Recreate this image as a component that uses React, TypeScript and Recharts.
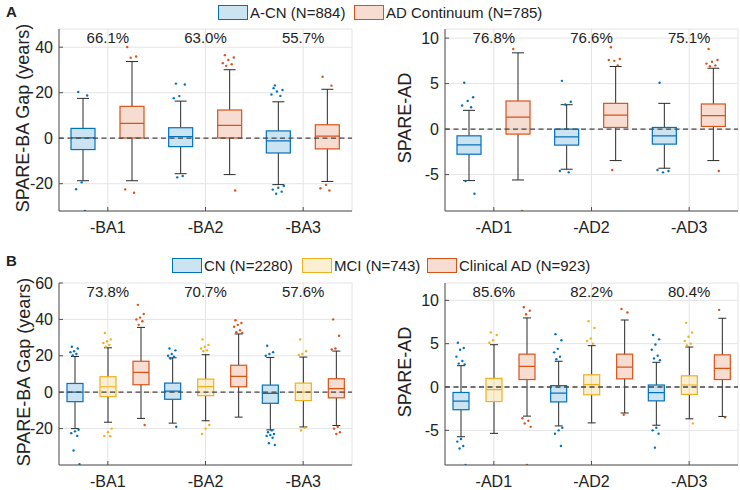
import React from "react";
import {
  Bar,
  CartesianGrid,
  ComposedChart,
  ReferenceDot,
  ReferenceLine,
  XAxis,
  YAxis,
} from "recharts";

const FONT = '"Liberation Sans", Arial, Helvetica, sans-serif';
const BLUE = "#0072BD";
const ORANGE = "#D95319";
const YELLOW = "#EDB120";
const AXIS = "#505050";
const INK = "#222";

// categories
const baCats = ["-BA1", "-BA2", "-BA3"];
const adCats = ["-AD1", "-AD2", "-AD3"];

// each stat row: [lower whisker, q1, median, q3, upper whisker]
// panel A
const aPctBA = ["66.1%", "63.0%", "55.7%"];
const aPctAD = ["76.8%", "76.6%", "75.1%"];
const aCnBA = [[-18.7, -5.0, 0.1, 4.3, 17.5], [-15.6, -3.7, 0.7, 4.6, 16.3], [-20.4, -6.5, -1.2, 3.2, 16.0]];
const aCnBAOut = [[20.3, 18.8, -19.4, -22.4, -32], [24, 23.6, 18.5, 17.6, -16.6, -17.2], [22, 21.2, 20.5, 19.2, 18.6, 23.2, -21, -21.8, -22.6, -23.5, -24.4]];
const aAdBA = [[-18.7, 0.1, 6.5, 14.0, 33.7], [-16.0, 0.1, 5.6, 12.4, 30.1], [-19.0, -4.7, 0.9, 5.9, 21.5]];
const aAdBAOut = [[40.1, 35.9, 35.4, -22.5, -24], [36.5, 35.5, 34.4, 33, 32.5, 31.8, -23], [27, 23.1, -20.5, -22, -23]];
const aCnAD = [[-5.66, -2.76, -1.73, -0.74, 2.06], [-4.41, -1.76, -0.85, 0, 2.68], [-4.3, -1.65, -0.74, 0.18, 2.83]];
const aCnADOut = [[5.1, 3.5, 3.1, 2.6, 2.4, -5.7, -7.1], [5.3, 3.0, 2.7, -4.6, -4.75], [5.1, -4.6, -4.75, -4.5]];
const aAdAD = [[-5.59, -0.55, 1.32, 3.09, 8.38], [-3.46, 0.18, 1.54, 2.83, 6.88], [-3.46, 0.29, 1.47, 2.76, 6.69]];
const aAdADOut = [[8.8, -9], [9.0, 7.7, 7.5, 7.6, 7.0, -4.5], [8.8, 7.6, 7.4, 7.2, 7.0, 6.9, -4.6]];

// panel B
const bPctBA = ["73.8%", "70.7%", "57.6%"];
const bPctAD = ["85.6%", "82.2%", "80.4%"];
const bCnBA = [[-20, -5.2, 0, 4.8, 19.6], [-17, -3.9, 0.6, 5.0, 18.9], [-20.7, -6.1, -0.7, 3.9, 19.1]];
const bCnBAOut = [[25, 24, 22.5, 22, 21, 20.2, -20.6, -21.5, -22.5, -24, -32, -39.5], [24, 23, 21, 20, 19.5, 18.5, -19], [25.5, 22, 21, 20, -21, -22, -23, -23.5, -24, -25, -28, -29]];
const bMciBA = [[-16.5, -2.4, 3.0, 8.5, 24.4], [-15.7, -1.9, 3.1, 7.2, 20.6], [-19.1, -4.6, 0, 5.0, 19.3]];
const bMciBAOut = [[32.5, 29, 28, 27, 26, 25, -20, -22, -24, -24.2], [29, 26, 25, 24, 23, 22.5, -18, -20, -23], [29, 22.5, 21, 20.5, -19.5, -21]];
const bAdBA = [[-14.4, 4.1, 10.9, 17.0, 35.6], [-13.7, 3.0, 8.7, 14.8, 32], [-18.3, -3.1, 2.0, 7.4, 22.6]];
const bAdBAOut = [[48, 43, 41, 40, 39, 37, -18], [39.5, 38, 37, 36, 34, 33, 32.5], [40, 31, 24, 23.5, -19, -20, -22, -23]];
const bCnAD = [[-5.74, -2.62, -1.64, -0.63, 2.46], [-4.49, -1.72, -0.7, 0.16, 2.97], [-4.41, -1.6, -0.66, 0.23, 2.85]];
const bCnADOut = [[5.1, 4.5, 4.3, 3.5, 3.0, 2.7, 2.6, -6.0, -6.3, -6.8, -7.1, -9], [6.1, 5.4, 4.4, 4.0, 3.5, 3.2, -4.7, -5.0, -5.4, -6.8], [6.0, 5.5, 4.9, 4.3, 3.6, 3.3, 3.1, -4.7, -5.0, -5.4, -7.0]];
const bMciAD = [[-5.35, -1.68, -0.31, 1.0, 4.88], [-4.14, -0.9, 0.27, 1.41, 4.77], [-3.67, -0.86, 0.23, 1.29, 4.61]];
const bMciADOut = [[6.3, 6.0, 5.4, 5.1], [7.6, 6.8, 5.6, 5.3, 5.0], [7.4, 6.3, 5.8, 5.3, 5.0, 4.8, -4.2]];
const bAdAD = [[-3.36, 0.86, 2.38, 3.79, 7.97], [-3.0, 0.94, 2.3, 3.79, 7.73], [-3.4, 0.86, 2.15, 3.71, 7.93]];
const bAdADOut = [[9.2, 8.8, 8.4, -3.6, -3.9, -4.2, -4.6, -9], [9.0, 8.6, -3.2], [8.9, -3.5]];

// axes
const aBADomain = [-32, 48];
const aBATicks = [-20, 0, 20, 40];
const aADDomain = [-9, 11];
const adTicks = [-5, 0, 5, 10];
const bBADomain = [-40, 60];
const bBATicks = [-20, 0, 20, 40, 60];
const bADDomain = [-9, 12];

type Series = { color: string; stats: number[][]; out: number[][] };

function makeBoxShape(s: Series, cats: string[]) {
  return (p: any) => {
    const { x, y, width, height, payload } = p;
    const i = cats.indexOf(payload.cat);
    const [lo, q1, med, q3, hi] = s.stats[i];
    const k = height / (q3 - q1);
    const Y = (v: number) => y + (q3 - v) * k;
    const cx = x + width / 2;
    const cap = width * 0.25;
    return (
      <g>
        <line x1={cx} x2={cx} y1={Y(hi)} y2={Y(q3)} stroke="#2a2a2a" strokeWidth={1} />
        <line x1={cx} x2={cx} y1={Y(q1)} y2={Y(lo)} stroke="#2a2a2a" strokeWidth={1} />
        <line x1={cx - cap} x2={cx + cap} y1={Y(hi)} y2={Y(hi)} stroke="#2a2a2a" strokeWidth={1} />
        <line x1={cx - cap} x2={cx + cap} y1={Y(lo)} y2={Y(lo)} stroke="#2a2a2a" strokeWidth={1} />
        <rect x={x} y={y} width={width} height={height} fill={s.color} fillOpacity={0.2} stroke={s.color} strokeWidth={1.2} />
        <line x1={x} x2={x + width} y1={Y(med)} y2={Y(med)} stroke={s.color} strokeWidth={1.2} />
        {s.out[i].map((v, j) => {
          const jit = (((j * 0.618034 + 0.17) % 1) - 0.5) * width * 0.6;
          return <circle key={j} cx={cx + jit} cy={Y(v)} r={1.2} fill={s.color} />;
        })}
      </g>
    );
  };
}

const YTick = (p: any) => {
  const { x, y, payload } = p;
  return (
    <g>
      <line x1={x + 6} x2={x + 10} y1={y} y2={y} stroke={AXIS} />
      <text x={x} y={y} textAnchor="end" dominantBaseline="central" fontSize={16} fill={INK}>
        {payload.value}
      </text>
    </g>
  );
};

const XTick = (p: any) => {
  const { x, y, payload } = p;
  return (
    <g>
      <line x1={x} x2={x} y1={y} y2={y - 4} stroke={AXIS} />
      <text x={x} y={y + 16} textAnchor="middle" dominantBaseline="central" fontSize={16} fill={INK}>
        {payload.value}
      </text>
    </g>
  );
};

type PanelProps = {
  cats: string[];
  pcts: string[];
  series: Series[];
  domain: number[];
  ticks: number[];
  yLabel: string;
  barSize: number;
  barGap: number;
  yWidth: number;
  labelX: number;
  left: number;
  top: number;
};

function BoxPanel(props: PanelProps) {
  const { cats, pcts, series, domain, ticks, yLabel, barSize, barGap, yWidth, labelX, left, top } = props;
  const rows = cats.map((c, i) => {
    const r: any = { cat: c };
    series.forEach((s, j) => {
      r[`s${j}`] = [s.stats[i][1], s.stats[i][3]];
    });
    return r;
  });
  const width = yWidth + 293 + (left === 0 ? 8 : 2);
  return (
    <div style={{ position: "absolute", left, top }}>
      <ComposedChart
        width={width}
        height={246}
        data={rows}
        barSize={barSize}
        barGap={barGap}
        margin={{ top: 29, right: left === 0 ? 8 : 2, left: 0, bottom: 0 }}
      >
        <CartesianGrid stroke="#e4e4e4" />
        <XAxis
          dataKey="cat"
          type="category"
          interval={0}
          height={35}
          tickSize={0}
          tickMargin={0}
          tickLine={false}
          axisLine={{ stroke: AXIS }}
          tick={<XTick />}
        />
        <YAxis
          type="number"
          domain={domain}
          ticks={ticks}
          allowDataOverflow
          width={yWidth}
          tickSize={0}
          tickMargin={6}
          tickLine={false}
          axisLine={{ stroke: AXIS }}
          tick={<YTick />}
          label={{
            content: (lp: any) => {
              const vb = lp.viewBox;
              const cx = vb.x + labelX;
              const cy = vb.y + vb.height / 2 - 2;
              return (
                <text
                  x={cx}
                  y={cy}
                  transform={`rotate(-90, ${cx}, ${cy})`}
                  textAnchor="middle"
                  dominantBaseline="central"
                  fontSize={18}
                  fill={INK}
                >
                  {yLabel}
                </text>
              );
            },
          }}
        />
        {series.map((s, j) => (
          <Bar
            key={j}
            dataKey={`s${j}`}
            isAnimationActive={false}
            shape={makeBoxShape(s, cats)}
          />
        ))}
        <ReferenceLine y={0} stroke="#454545" strokeWidth={1.3} strokeDasharray="5 3.5" />
        {cats.map((c, i) => (
          <ReferenceDot
            key={c}
            x={c}
            y={domain[1]}
            r={0}
            fill="none"
            stroke="none"
            ifOverflow="visible"
            label={{
              content: (lp: any) => {
                const vb = lp.viewBox;
                return (
                  <text
                    x={vb.x + vb.width / 2}
                    y={vb.y + 8.5}
                    textAnchor="middle"
                    dominantBaseline="central"
                    fontSize={15}
                    fill={INK}
                  >
                    {pcts[i]}
                  </text>
                );
              },
            }}
          />
        ))}
      </ComposedChart>
    </div>
  );
}

function LegendItem({ color, label, left, top }: { color: string; label: string; left: number; top: number }) {
  return (
    <div style={{ position: "absolute", left, top, display: "flex", alignItems: "center", height: 15 }}>
      <span
        style={{
          display: "inline-block",
          width: 28,
          height: 13,
          background: `${color}33`,
          border: `1px solid ${color}`,
        }}
      />
      <span style={{ marginLeft: 2, fontSize: 15, color: INK, whiteSpace: "nowrap" }}>{label}</span>
    </div>
  );
}

export default function App() {
  const blueA: Series[] = [
    { color: BLUE, stats: aCnBA, out: aCnBAOut },
    { color: ORANGE, stats: aAdBA, out: aAdBAOut },
  ];
  const blueAAD: Series[] = [
    { color: BLUE, stats: aCnAD, out: aCnADOut },
    { color: ORANGE, stats: aAdAD, out: aAdADOut },
  ];
  const bBA: Series[] = [
    { color: BLUE, stats: bCnBA, out: bCnBAOut },
    { color: YELLOW, stats: bMciBA, out: bMciBAOut },
    { color: ORANGE, stats: bAdBA, out: bAdBAOut },
  ];
  const bAD: Series[] = [
    { color: BLUE, stats: bCnAD, out: bCnADOut },
    { color: YELLOW, stats: bMciAD, out: bMciADOut },
    { color: ORANGE, stats: bAdAD, out: bAdADOut },
  ];
  return (
    <div
      style={{
        position: "absolute",
        left: 0,
        top: 0,
        width: 740,
        height: 490,
        background: "#fff",
        fontFamily: FONT,
        overflow: "hidden",
      }}
    >
      <div style={{ position: "absolute", left: 6, top: 3, fontSize: 15, fontWeight: "bold", color: INK }}>A</div>
      <div style={{ position: "absolute", left: 6, top: 252, fontSize: 15, fontWeight: "bold", color: INK }}>B</div>

      <LegendItem color={BLUE} label="A-CN (N=884)" left={218} top={5} />
      <LegendItem color={ORANGE} label="AD Continuum (N=785)" left={354} top={5} />
      <LegendItem color={BLUE} label="CN (N=2280)" left={172} top={258} />
      <LegendItem color={YELLOW} label="MCI (N=743)" left={302} top={258} />
      <LegendItem color={ORANGE} label="Clinical AD (N=923)" left={427} top={258} />

      <BoxPanel cats={baCats} pcts={aPctBA} series={blueA} domain={aBADomain} ticks={aBATicks}
        yLabel="SPARE-BA Gap (years)" barSize={24} barGap={25} yWidth={59} labelX={23} left={0} top={0} />
      <BoxPanel cats={adCats} pcts={aPctAD} series={blueAAD} domain={aADDomain} ticks={adTicks}
        yLabel="SPARE-AD" barSize={24} barGap={25} yWidth={65} labelX={25} left={380} top={0} />
      <BoxPanel cats={baCats} pcts={bPctBA} series={bBA} domain={bBADomain} ticks={bBATicks}
        yLabel="SPARE-BA Gap (years)" barSize={16} barGap={17} yWidth={59} labelX={24} left={0} top={254} />
      <BoxPanel cats={adCats} pcts={bPctAD} series={bAD} domain={bADDomain} ticks={adTicks}
        yLabel="SPARE-AD" barSize={16} barGap={17} yWidth={65} labelX={25} left={380} top={254} />
    </div>
  );
}
